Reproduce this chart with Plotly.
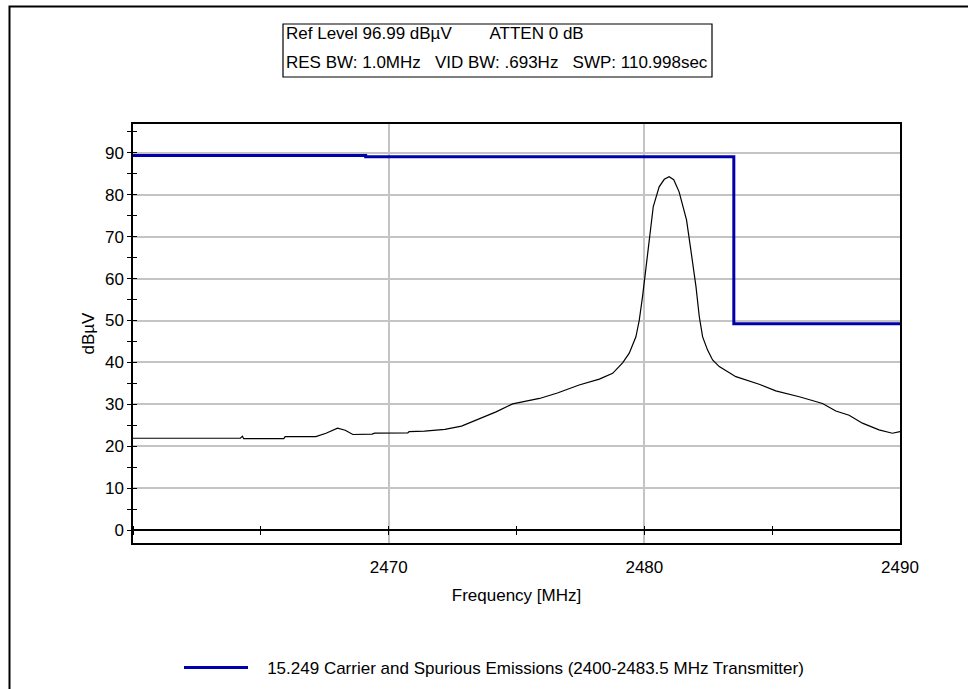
import plotly.graph_objects as go

# ---- data ----
freq_mhz = [2460.0, 2464.2, 2464.28, 2464.33, 2464.4, 2465.9, 2465.95, 2467.15, 2467.55,
            2468.0, 2468.3, 2468.6, 2469.35, 2469.45, 2470.75, 2470.8, 2471.4, 2472.2,
            2472.85, 2473.3, 2473.7, 2474.2, 2474.85, 2475.5, 2475.9, 2476.6, 2477.45,
            2478.24, 2478.76, 2479.15, 2479.41, 2479.67, 2479.8, 2479.93, 2480.06,
            2480.19, 2480.35, 2480.58, 2480.78, 2480.97, 2481.15, 2481.36, 2481.65,
            2481.82, 2482.02, 2482.15, 2482.28, 2482.47, 2482.67, 2482.93, 2483.58,
            2484.49, 2485.14, 2486.06, 2486.97, 2487.49, 2488.01, 2488.53, 2489.18,
            2489.7, 2490.0]
level_dbuv = [21.9, 21.9, 22.4, 21.8, 21.8, 21.8, 22.3, 22.3, 23.1,
              24.3, 23.8, 22.8, 22.9, 23.1, 23.2, 23.5, 23.6, 24.0,
              24.8, 25.9, 27.0, 28.2, 30.1, 30.9, 31.4, 32.7, 34.6,
              36.0, 37.4, 39.9, 42.2, 46.1, 50.0, 55.7, 62.8,
              70.0, 77.2, 81.9, 83.7, 84.3, 83.6, 80.7, 74.0,
              66.8, 58.1, 50.9, 46.1, 43.0, 40.6, 39.0, 36.6,
              34.8, 33.2, 31.8, 30.2, 28.4, 27.4, 25.5, 23.9,
              23.1, 23.5]

limit_freq = [2460.0, 2469.1, 2483.5, 2490.0]
limit_level = [89.4, 89.1, 49.2, 49.2]
limit_name = "15.249 Carrier and Spurious Emissions (2400-2483.5 MHz Transmitter)"

x_tick_vals = [2470, 2480, 2490]
x_tick_text = ["2470", "2480", "2490"]
y_tick_vals = [0, 10, 20, 30, 40, 50, 60, 70, 80, 90]

header_line1 = "Ref Level 96.99 dBµV" + "\u00a0" * 8 + "ATTEN 0 dB"
header_line2 = ("RES BW: 1.0MHz" + "\u00a0" * 3 + "VID BW: .693Hz" + "\u00a0" * 3 +
                "SWP: 110.998sec")

X_RANGE = [2460, 2490]
Y_RANGE = [-3.1, 96.9]

# ---- layout geometry (pixels) ----
W, H = 968, 689
ML, MR, MT, MB = 133, 68, 124, 146
PW, PH = W - ML - MR, H - MT - MB


def px(x):
    return (x - ML) / PW


def py(y):
    return (H - MB - y) / PH


FONT = "Liberation Sans, Arial, sans-serif"
FS = 17

fig = go.Figure()
fig.add_trace(go.Scatter(x=freq_mhz, y=level_dbuv, mode="lines",
                         line=dict(color="black", width=1.2), showlegend=False,
                         hoverinfo="x+y"))
fig.add_trace(go.Scatter(x=limit_freq, y=limit_level, mode="lines",
                         name="\u00a0\u00a0\u00a0" + limit_name,
                         line=dict(color="#0000aa", width=3, shape="hv")))
# empty helper traces so the overlay tick axes get drawn
fig.add_trace(go.Scatter(x=X_RANGE, y=[None, None], xaxis="x2", yaxis="y2",
                         showlegend=False, hoverinfo="skip"))
fig.add_trace(go.Scatter(x=X_RANGE, y=[None, None], xaxis="x3", yaxis="y",
                         showlegend=False, hoverinfo="skip"))

zero_pos = (0 - Y_RANGE[0]) / (Y_RANGE[1] - Y_RANGE[0])

tick_common = dict(ticklen=4, tickwidth=1.3, tickcolor="black", showticklabels=False,
                   showgrid=False, showline=False, zeroline=False)

fig.update_layout(
    width=W, height=H,
    margin=dict(l=ML, r=MR, t=MT, b=MB, autoexpand=False),
    paper_bgcolor="white", plot_bgcolor="white",
    font=dict(family=FONT, size=FS, color="black"),
    xaxis=dict(range=X_RANGE, tickvals=x_tick_vals, ticktext=x_tick_text,
               showgrid=True, gridcolor="#c4c4c4", gridwidth=1.5,
               showline=True, linecolor="black", linewidth=1.5, mirror=True,
               ticks="", ticklabelstandoff=8, zeroline=False,
               title=dict(text="Frequency [MHz]", standoff=13,
                          font=dict(size=FS))),
    xaxis2=dict(range=X_RANGE, overlaying="x", anchor="free", position=zero_pos,
                tick0=2460, dtick=5, ticks="outside", **tick_common),
    xaxis3=dict(range=X_RANGE, overlaying="x", anchor="free", position=zero_pos,
                side="top", tick0=2460, dtick=5, ticks="outside", **tick_common),
    yaxis=dict(range=Y_RANGE, tickvals=y_tick_vals,
               showgrid=True, gridcolor="#c4c4c4", gridwidth=1.5,
               showline=True, linecolor="black", linewidth=1.5, mirror=True,
               ticks="outside", ticklen=4, tickwidth=1.3, tickcolor="black",
               minor=dict(tick0=5, dtick=10, ticks="outside", ticklen=4,
                          tickwidth=1.3, tickcolor="black", showgrid=False),
               zeroline=True, zerolinecolor="black", zerolinewidth=1.5,
               title=dict(text="dBµV", standoff=6, font=dict(size=FS))),
    yaxis2=dict(range=Y_RANGE, overlaying="y", anchor="x", side="left",
                tick0=0, dtick=5, ticks="inside", **tick_common),
    legend=dict(orientation="h", x=px(179), xanchor="left", y=py(668),
                yanchor="middle", itemwidth=64, font=dict(size=FS),
                bgcolor="rgba(0,0,0,0)"),
    showlegend=True,
)

# header box
fig.add_shape(type="rect", xref="paper", yref="paper",
              x0=px(283), x1=px(712), y0=py(77), y1=py(24),
              line=dict(color="black", width=1.2), fillcolor="white", layer="above")
fig.add_annotation(xref="paper", yref="paper", x=px(284), y=py(34), xanchor="left",
                   yanchor="middle", text=header_line1, showarrow=False,
                   font=dict(size=FS))
fig.add_annotation(xref="paper", yref="paper", x=px(284), y=py(62), xanchor="left",
                   yanchor="middle", text=header_line2, showarrow=False,
                   font=dict(size=FS))

# outer frame
fig.add_shape(type="rect", xref="paper", yref="paper",
              x0=px(9.5), x1=px(1100), y0=py(800), y1=py(6.5),
              line=dict(color="black", width=2), fillcolor="rgba(0,0,0,0)",
              layer="above")

fig.write_html("out.html", config={"displayModeBar": False},
               post_script="document.body.style.margin='0';"
                           "document.body.style.overflow='hidden';")
